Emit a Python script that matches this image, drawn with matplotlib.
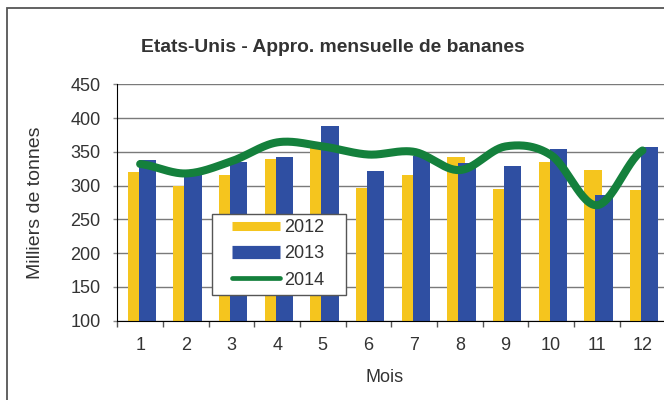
import numpy as np
import matplotlib
matplotlib.use("Agg")
import matplotlib.pyplot as plt
from matplotlib.lines import Line2D
from matplotlib.patches import Rectangle

months = [1, 2, 3, 4, 5, 6, 7, 8, 9, 10, 11, 12]
month_labels = ["1", "2", "3", "4", "5", "6", "7", "8", "9", "10", "11", "12"]
v2012 = [320, 300, 315, 340, 357, 297, 315, 343, 295, 335, 323, 294]
v2013 = [338, 315, 335, 343, 388, 322, 344, 333, 329, 354, 286, 357]
v2014 = [332, 318, 336, 364, 358, 346, 350, 323, 358, 345, 271, 352]
yticks = [100, 150, 200, 250, 300, 350, 400, 450]

plt.rcParams['font.family'] = ['Liberation Sans', 'DejaVu Sans']

W, H = 664, 400
fig = plt.figure(figsize=(W / 100, H / 100), dpi=100)
ax = fig.add_axes([117.3 / W, 1 - 320.7 / H, 548 / W, 236.4 / H])

yellow = '#F5C51E'
blue = '#2F4FA2'
green = '#14803C'
txt = '#333333'

x = np.array(months, dtype=float)
w = 0.38
ax.bar(x - 0.082, v2012, width=w, color=yellow, zorder=2)
ax.bar(x + 0.158, v2013, width=w, color=blue, zorder=3)

# smooth curve (Catmull-Rom) through the 2014 points
def catmull(xs, ys, n=30):
    xs = np.asarray(xs, float); ys = np.asarray(ys, float)
    px = np.concatenate([[2 * xs[0] - xs[1]], xs, [2 * xs[-1] - xs[-2]]])
    py = np.concatenate([[ys[0]], ys, [ys[-1]]])
    ox, oy = [], []
    for i in range(1, len(px) - 2):
        t = np.linspace(0, 1, n, endpoint=False)
        for arr, out in ((px, ox), (py, oy)):
            p0, p1, p2, p3 = arr[i - 1], arr[i], arr[i + 1], arr[i + 2]
            out.extend(0.5 * (2 * p1 + (-p0 + p2) * t + (2 * p0 - 5 * p1 + 4 * p2 - p3) * t ** 2
                              + (-p0 + 3 * p1 - 3 * p2 + p3) * t ** 3))
    ox.append(xs[-1]); oy.append(ys[-1])
    return np.array(ox), np.array(oy)

sx, sy = catmull(months, v2014)
ax.plot(sx, sy, color=green, lw=5.8, solid_capstyle='round', solid_joinstyle='round', zorder=4)

ax.set_xlim(0.5, 12.5)
ax.set_ylim(100, 450)
ax.set_yticks(yticks)
ax.set_yticklabels([str(v) for v in yticks])
ax.set_xticks(months)
ax.set_xticklabels(month_labels)
ax.set_xticks(np.arange(0.5, 12.6, 1.0), minor=True)
ax.tick_params(axis='x', which='major', length=0, pad=12, labelsize=13, labelcolor=txt)
ax.tick_params(axis='x', which='minor', length=4, width=1, color='#555555')
ax.tick_params(axis='y', which='major', length=3, width=1, color='#888888', pad=9, labelsize=13, labelcolor=txt)

ax.grid(axis='y', color='#7a7a7a', lw=1, zorder=0)
ax.set_axisbelow(True)
for s in ['top', 'right']:
    ax.spines[s].set_visible(False)
ax.spines['left'].set_color('black')
ax.spines['bottom'].set_color('black')
ax.spines['left'].set_zorder(5)
ax.spines['bottom'].set_zorder(5)

ax.set_ylabel('Milliers de tonnes', fontsize=14, color=txt)
ax.yaxis.set_label_coords(-0.150, 0.5)
ax.yaxis.label.set_verticalalignment('center')
ax.set_xlabel('Mois', fontsize=13, color=txt)
ax.xaxis.set_label_coords(0.487, -0.242)
ax.xaxis.label.set_verticalalignment('center')

fig.text(333 / W, 1 - 47 / H, 'Etats-Unis - Appro. mensuelle de bananes',
         ha='center', va='center', fontsize=13.9, fontweight='bold', color=txt)

# legend box
ax.add_patch(Rectangle((0.1723, 0.1087), 0.4168 - 0.1723, 0.4514 - 0.1087,
                       transform=ax.transAxes, facecolor='white', edgecolor='#555555',
                       lw=1, zorder=6))
handles = [Line2D([], [], color=yellow, lw=6.5, solid_capstyle='butt'),
           Line2D([], [], color=blue, lw=9.5, solid_capstyle='butt'),
           Line2D([], [], color=green, lw=3.4, solid_capstyle='round')]
leg = ax.legend(handles, ['2012', '2013', '2014'], loc='center left',
                bbox_to_anchor=(0.2093, 0.283), borderaxespad=0, borderpad=0,
                fontsize=13, frameon=False, handlelength=2.65, handletextpad=0.25,
                labelspacing=0.52, labelcolor=txt)
leg.set_zorder(7)

fig.patches.append(Rectangle((6.7 / W, -0.1), 1.2, 1 - 8.5 / H + 0.1, transform=fig.transFigure,
                             fill=False, edgecolor='#555555', lw=1.3))

fig.savefig('out.png', dpi=100)
